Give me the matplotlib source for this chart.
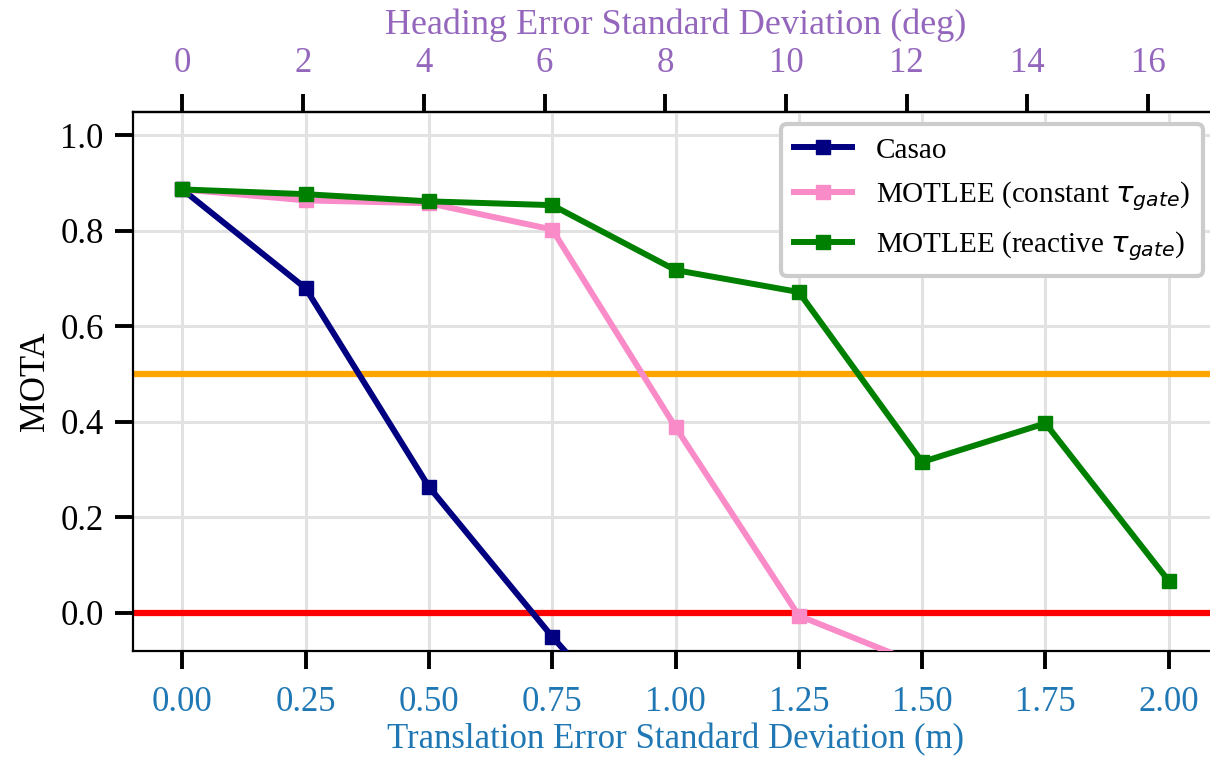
import matplotlib
matplotlib.use("Agg")
import matplotlib.pyplot as plt
import numpy as np

# ---- data ----
translation_std = [0.0, 0.25, 0.5, 0.75, 1.0, 1.25, 1.5, 1.75, 2.0]
casao = [0.887, 0.680, 0.264, -0.050, -0.34]
motlee_constant = [0.887, 0.864, 0.858, 0.803, 0.389, -0.006, -0.11]
motlee_reactive = [0.887, 0.877, 0.862, 0.854, 0.718, 0.672, 0.316, 0.397, 0.067]
heading_ticks = [0, 2, 4, 6, 8, 10, 12, 14, 16]
deg_per_m = 8.17
y_ticks = [0.0, 0.2, 0.4, 0.6, 0.8, 1.0]

plt.rcParams['font.family'] = ['Liberation Serif', 'DejaVu Serif']
plt.rcParams['mathtext.fontset'] = 'dejavusans'

W, H = 1210, 757
fig = plt.figure(figsize=(W / 100, H / 100), dpi=100)
left, right, bottom, top = 133, 1218, 651, 111.6
ax = fig.add_axes([left / W, 1 - bottom / H, (right - left) / W, (bottom - top) / H])

tick_kw = dict(length=13, width=2.8)
lw = 4.3
ms = 10

ax.axhline(0.5, color='orange', lw=4.5, zorder=1.6)
ax.axhline(0.0, color='red', lw=4.5, zorder=1.6)

ax.plot(translation_std[:len(casao)], casao, color='#000080', marker='s', lw=lw, ms=ms,
        label='Casao', zorder=3)
ax.plot(translation_std[:len(motlee_constant)], motlee_constant, color='#f98bc8', marker='s', lw=lw, ms=ms,
        label=r'MOTLEE (constant $\tau_{gate}$)', zorder=3)
ax.plot(translation_std, motlee_reactive, color='green', marker='s', lw=lw, ms=ms,
        label=r'MOTLEE (reactive $\tau_{gate}$)', zorder=3.1)

ax.set_xlim(-0.1, 2.1)
ax.set_ylim(-0.08, 1.05)
ax.set_xticks(translation_std)
ax.set_xticklabels([f"{v:.2f}" for v in translation_std])
ax.set_yticks(y_ticks)
ax.set_yticklabels([f"{v:.1f}" for v in y_ticks])
ax.grid(True, color='#e2e2e2', lw=2.2, zorder=0)
ax.set_axisbelow(True)

ax.tick_params(axis='x', colors='black', labelcolor='#1f77b4', labelsize=25, pad=12, **tick_kw)
ax.tick_params(axis='y', colors='black', labelsize=25, pad=8, **tick_kw)
ax.set_xlabel('Translation Error Standard Deviation (m)', color='#1f77b4', fontsize=25, labelpad=3)
ax.set_ylabel('MOTA', fontsize=25, labelpad=6)
for s in ax.spines.values():
    s.set_linewidth(1.6)
ax.spines['right'].set_visible(False)

sec = ax.secondary_xaxis('top', functions=(lambda x: x * deg_per_m, lambda x: x / deg_per_m))
sec.set_xticks(heading_ticks)
sec.set_xticklabels([str(v) for v in heading_ticks])
sec.tick_params(axis='x', colors='black', labelcolor='#9467bd', labelsize=25, pad=10, **tick_kw)
sec.set_xlabel('Heading Error Standard Deviation (deg)', color='#9467bd', fontsize=26, labelpad=9)
sec.spines['top'].set_linewidth(1.6)

leg = fig.legend(loc='upper right', bbox_to_anchor=(1203 / W, 1 - 124 / H),
                 bbox_transform=fig.transFigure, borderaxespad=0, fontsize=21,
                 frameon=True, fancybox=True, framealpha=1, edgecolor='#cccccc',
                 handlelength=2.0, labelspacing=0.55, borderpad=0.45)
leg.get_frame().set_linewidth(3)

fig.savefig('out.png', dpi=100)
